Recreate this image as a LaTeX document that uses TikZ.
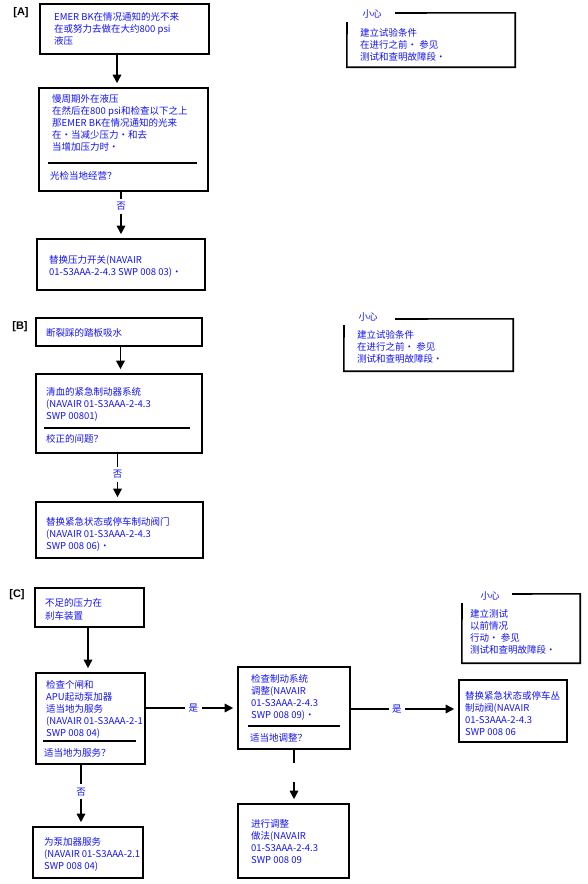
\documentclass[tikz,border=0pt]{standalone}
\usepackage{fontspec}
\setmainfont{Noto Sans CJK SC}
\newfontfamily\labfont{Liberation Sans}
\usetikzlibrary{arrows.meta}
\definecolor{txtblue}{RGB}{20,20,245}
\begin{document}
\begin{tikzpicture}[x=1pt,y=-1pt,
 box/.style={draw, line width=1.6pt, inner sep=0pt},
 txt/.style={anchor=base west, align=left, inner sep=0pt, text=txtblue, font=\fontsize{9.5pt}{12.2pt}\selectfont},
 ttl/.style={anchor=base, inner sep=0pt, text=txtblue, font=\fontsize{9.5pt}{12.2pt}\selectfont},
 lab/.style={inner sep=0pt, font=\labfont\bfseries\fontsize{11pt}{12pt}\selectfont},
 arr/.style={line width=1.6pt, -{Triangle[length=8.5pt,width=8.5pt]}, shorten >=4pt},
 ln/.style={line width=1.6pt},
 yn/.style={fill=white, text=txtblue, inner sep=3.5pt, font=\fontsize{9.5pt}{12.2pt}\selectfont},
 div/.style={line width=1.3pt},
 frame/.style={line width=1.6pt}
]
\useasboundingbox[fill=white] (0,0) rectangle (588,884);
% note: a multi-line node's base is its last line, so y = first baseline + (lines-1)*12.2

% ---------- [A] ----------
\node[lab] (LA) at (21,13) {[A]};
\node[box, minimum width=169, minimum height=50] (A1) at (124.5,29) {};
\node[txt] (A1t) at (54,{20+2*12.2}) {EMER BK在情况通知的光不来\\在或努力去做在大约800 psi\\液压};
\node[box, minimum width=169, minimum height=103] (A2) at (123.5,139.5) {};
\node[txt] (A2t) at (52,{102+4*12.2}) {慢周期外在液压\\在然后在800 psi和检查以下之上\\那EMER BK在情况通知的光来\\在・当减少压力・和去\\当增加压力时・};
\draw[div] (48,163) -- (197,163);
\node[txt] (A2q) at (50,179) {光检当地经营？};
\node[box, minimum width=168, minimum height=51] (A3) at (121,264.5) {};
\node[txt] (A3t) at (49,{263+12.2}) {替换压力开关(NAVAIR\\01-S3AAA-2-4.3 SWP 008 03)・};
\draw[arr] ([xshift=-7.5pt]A1.south) -- ([xshift=-7.5pt]A1.south |- A2.north);
\draw[arr] ([xshift=-2.5pt]A2.south) -- node[yn, pos=0.31] {否} ([xshift=-2.5pt]A2.south |- A3.north);

\node[inner sep=0pt, minimum width=168, minimum height=54] (cA) at (431,40) {};
\node[ttl] (cAh) at (372,17) {小心};
\draw[frame] (395,13) -- (cA.north east) -- (cA.south east) -- (cA.south west) -- (347,22);
\node[txt] (cAt) at (360,{36+2*12.2}) {建立试验条件\\在进行之前・ 参见\\测试和查明故障段・};

% ---------- [B] ----------
\node[lab] (LB) at (20,327) {[B]};
\node[box, minimum width=166, minimum height=28] (B1) at (119,332) {};
\node[txt] (B1t) at (46,336) {断裂踩的踏板吸水};
\node[box, minimum width=166, minimum height=79] (B2) at (119,413.5) {};
\node[txt] (B2t) at (46,{395+2*12.2}) {清血的紧急制动器系统\\(NAVAIR 01-S3AAA-2-4.3\\SWP 00801)};
\draw[div] (44,428) -- (190,428);
\node[txt] (B2q) at (46,442) {校正的间题？};
\node[box, minimum width=167, minimum height=56] (B3) at (119.5,530) {};
\node[txt] (B3t) at (46,{525+2*12.2}) {替换紧急状态或停车制动阀门\\(NAVAIR 01-S3AAA-2-4.3\\SWP 008 06)・};
\draw[arr] ([xshift=1.5pt]B1.south) -- ([xshift=1.5pt]B1.south |- B2.north);
\draw[arr] ([xshift=-1.5pt]B2.south) -- node[yn, pos=0.43] {否} ([xshift=-1.5pt]B2.south |- B3.north);

\node[inner sep=0pt, minimum width=169, minimum height=52] (cB) at (428.5,345) {};
\node[ttl] (cBh) at (368,320) {小心};
\draw[frame] (395,319) -- (cB.north east) -- (cB.south east) -- (cB.south west) -- (344,325);
\node[txt] (cBt) at (357,{338+2*12.2}) {建立试验条件\\在进行之前・ 参见\\测试和查明故障段・};

% ---------- [C] ----------
\node[lab] (LC) at (17,595) {[C]};
\node[box, minimum width=109, minimum height=39] (C1) at (89.5,607.5) {};
\node[txt] (C1t) at (45,{607+12}) {不足的压力在\\刹车装置};
\node[box, minimum width=109, minimum height=91] (C2) at (90.5,718.5) {};
\node[txt] (C2t) at (46,{688+4*12.2}) {检查个闸和\\APU起动泵加器\\适当地为服务\\(NAVAIR 01-S3AAA-2-1\\SWP 008 04)};
\draw[div] (43,741) -- (136,741);
\node[txt] (C2q) at (44,756) {适当地为服务？};
\node[box, minimum width=112, minimum height=82] (C3) at (294,708) {};
\node[txt] (C3t) at (251,{682+3*12.2}) {检查制动系统\\调整(NAVAIR\\01-S3AAA-2-4.3\\SWP 008 09)・};
\draw[div] (248,726) -- (340,726);
\node[txt] (C3q) at (250,741) {适当地调整？};
\node[box, minimum width=108, minimum height=62] (C4) at (513,711) {};
\node[txt] (C4t) at (465,{699+3*12.2}) {替换紧急状态或停车丛\\制动阀(NAVAIR\\01-S3AAA-2-4.3\\SWP 008 06};
\node[box, minimum width=111, minimum height=74] (C5) at (293.5,841) {};
\node[txt] (C5t) at (251,{827+3*12.2}) {进行调整\\做法(NAVAIR\\01-S3AAA-2-4.3\\SWP 008 09};
\node[box, minimum width=110, minimum height=51] (C6) at (88,852.5) {};
\node[txt] (C6t) at (44,{845+2*12.2}) {为泵加器服务\\(NAVAIR 01-S3AAA-2.1\\SWP 008 04)};

\draw[arr] ([xshift=-1.5pt]C1.south) -- ([xshift=-1.5pt]C1.south |- C2.north);
\draw[arr] ([yshift=10.5pt]C2.east) -- node[yn, pos=0.52] {是} ([yshift=10.5pt]C2.east -| C3.west);
\draw[arr] ([yshift=-1pt]C3.east) -- node[yn, pos=0.43] {是} ([yshift=-1pt]C3.east -| C4.west);
\draw[arr] ([xshift=-9.5pt]C2.south) -- node[yn, pos=0.44] {否} ([xshift=-9.5pt]C2.south |- C6.north);
\coordinate (g1) at (294,763);
\coordinate (g2) at (294,782);
\draw[ln] (C3.south) -- (g1);
\draw[arr] (g2) -- (g2 |- C5.north);

\node[inner sep=0pt, minimum width=118, minimum height=69] (cC) at (521,628.5) {};
\node[ttl] (cCh) at (490,599) {小心};
\draw[frame] (512,594) -- (cC.north east) -- (cC.south east) -- (cC.south west) -- (462,603);
\node[txt] (cCt) at (470,{617+3*12.2}) {建立测试\\以前情况\\行动・ 参见\\测试和查明故障段・};
\end{tikzpicture}
\end{document}
